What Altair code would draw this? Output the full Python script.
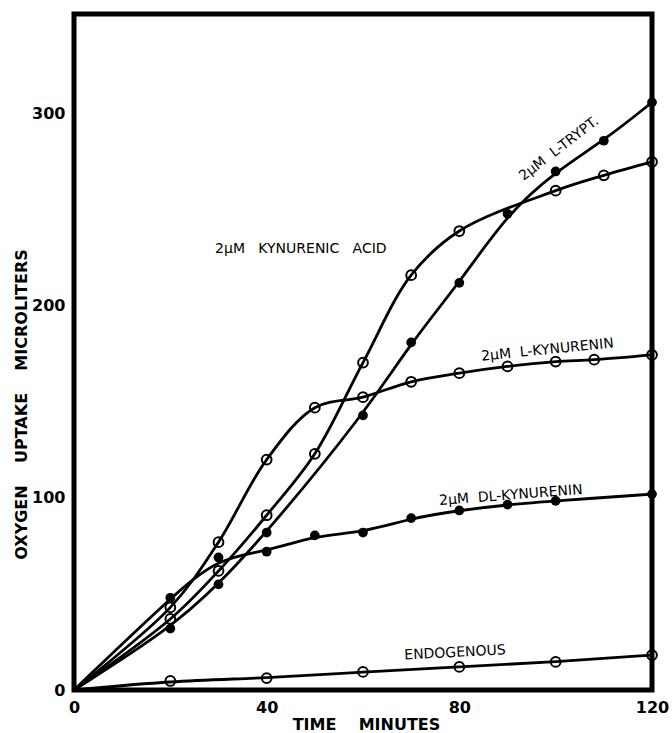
import altair as alt
import pandas as pd

# ---- data (time in minutes, oxygen uptake in microliters) ----
endo_t = [0, 20, 40, 60, 80, 100, 120]
endo_v = [0, 4.7, 6.2, 9.4, 12.0, 14.6, 18.2]

kyna_t = [0, 20, 30, 40, 50, 60, 70, 80, 100, 110, 120]
kyna_v = [0, 37, 62, 91, 123, 170.5, 216, 239, 260, 268, 275]

ltry_t = [0, 20, 30, 40, 60, 70, 80, 90, 100, 110, 120]
ltry_v = [0, 32, 55, 82, 143, 181, 212, 248, 270, 286, 306]

lkyn_t = [0, 20, 30, 40, 50, 60, 70, 80, 90, 100, 108, 120]
lkyn_v = [0, 43, 77, 120, 147, 152.5, 160.5, 165, 168.5, 171, 172, 174.5]

dlky_t = [0, 20, 30, 40, 50, 60, 70, 80, 90, 100, 120]
dlky_v = [0, 48, 69, 72, 80.5, 82, 89.5, 93.5, 96.5, 98.5, 102]

series_names = ["ENDOGENOUS", "KYNURENIC ACID", "L-TRYPT", "L-KYNURENIN", "DL-KYNURENIN"]
series_filled = [False, False, True, False, True]
series_smooth = [True, False, True, False, True]

x_ticks = [0, 40, 80, 120]
y_ticks = [0, 100, 200, 300]

NB = "\u00a0"
label_text = [
    f"2µM{NB}{NB}{NB}KYNURENIC{NB}{NB}{NB}ACID",
    f"2µM{NB}{NB}L-TRYPT.",
    f"2µM{NB}{NB}L-KYNURENIN",
    f"2µM{NB}{NB}DL-KYNURENIN",
    "ENDOGENOUS",
]
label_t = [47.1, 100.7, 98.3, 90.7, 79.1]
label_v = [229.7, 281.8, 177.0, 101.3, 19.3]
label_angle = [0, 322.6, 354.3, 355.6, 357]

# ---- build tables ----
rows = []
for name, filled, smooth, ts, vs in zip(
    series_names, series_filled, series_smooth,
    [endo_t, kyna_t, ltry_t, lkyn_t, dlky_t],
    [endo_v, kyna_v, ltry_v, lkyn_v, dlky_v],
):
    for t, v in zip(ts, vs):
        rows.append({"series": name, "filled": filled, "smooth": smooth, "t": t, "v": v})
df = pd.DataFrame(rows)

labels = pd.DataFrame({"t": label_t, "v": label_v, "text": label_text, "angle": label_angle})

FONT = "DejaVu Sans"

x_enc = alt.X(
    "t:Q",
    scale=alt.Scale(domain=[0, 120], nice=False, zero=False),
    axis=alt.Axis(
        values=x_ticks, grid=False, domain=False, ticks=False, tickSize=0,
        labelPadding=9, labelFontSize=16, labelFontWeight="bold", labelFont=FONT,
        labelColor="black", labelFlush=False,
        title=f"TIME{NB}{NB}{NB}{NB}MINUTES", titleFont=FONT, titleFontSize=16,
        titleFontWeight="bold", titleColor="black",
        titleX=292, titleY=34, titleBaseline="middle", titleAlign="center",
    ),
)
y_enc = alt.Y(
    "v:Q",
    scale=alt.Scale(domain=[0, 352], nice=False, zero=False),
    axis=alt.Axis(
        values=y_ticks, grid=False, domain=False, ticks=False, tickSize=0,
        labelPadding=9, labelFontSize=16, labelFontWeight="bold", labelFont=FONT,
        labelColor="black", labelFlush=False,
        title=f"OXYGEN{NB}{NB}{NB}{NB}UPTAKE{NB}{NB}{NB}{NB}MICROLITERS",
        titleFont=FONT, titleFontSize=16, titleFontWeight="bold", titleColor="black",
        titleAngle=270, titleX=-53, titleY=390, titleBaseline="middle", titleAlign="center",
    ),
)

base = alt.Chart(df)

lines_fit = base.transform_filter("!datum.smooth").mark_line(
    interpolate="catmull-rom", color="black", strokeWidth=2.8
).encode(x=x_enc, y=y_enc, detail="series:N")

lines_smooth = base.transform_filter("datum.smooth").mark_line(
    interpolate="basis", color="black", strokeWidth=2.8
).encode(x="t:Q", y="v:Q", detail="series:N")

open_pts = base.transform_filter("datum.t > 0 && !datum.filled").mark_point(
    shape="circle", filled=False, color="black", size=95, strokeWidth=2, opacity=1
).encode(x="t:Q", y="v:Q")

filled_pts = base.transform_filter("datum.t > 0 && datum.filled").mark_point(
    shape="circle", filled=True, color="black", size=95, opacity=1
).encode(x="t:Q", y="v:Q")

texts = alt.Chart(labels).mark_text(
    font=FONT, fontSize=14, color="black", align="center", baseline="middle"
).encode(
    x="t:Q", y="v:Q", text="text:N", angle=alt.Angle("angle:Q", scale=None)
)

chart = (
    alt.layer(lines_fit, lines_smooth, open_pts, filled_pts, texts)
    .properties(
        width=578, height=676,
        autosize=alt.AutoSizeParams(type="none"),
        padding={"left": 74, "top": 14, "right": 20, "bottom": 43},
        background="white",
    )
    .configure_view(stroke="black", strokeWidth=5)
)

chart.save("out.html", embed_options={"renderer": "svg", "actions": False})
